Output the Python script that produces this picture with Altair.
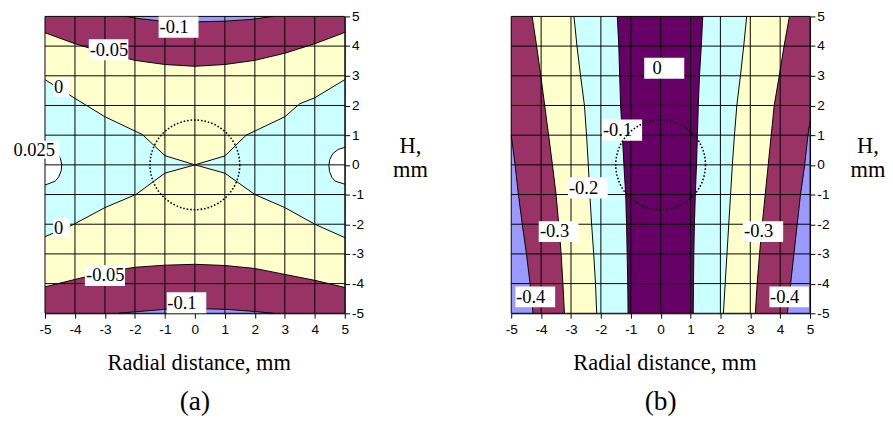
import altair as alt
import pandas as pd

TICKS = [-5, -4, -3, -2, -1, 0, 1, 2, 3, 4, 5]

LAVENDER = "#9999FF"
MAROON = "#993366"
YELLOW = "#FFFFCC"
CYAN = "#CCFFFF"
PURPLE = "#660066"

SERIF = "Liberation Serif, Times New Roman, serif"
SANS = "Liberation Sans, Arial, sans-serif"

# ---------------- Panel (a): contour lines (x, H in mm) ----------------
A_M010_TOP_X = [-2.3, -1.9, -1.2, 0.15, 1.0, 1.9, 2.6]
A_M010_TOP_Y = [5.0, 4.93, 4.85, 4.82, 4.84, 4.9, 5.0]
A_M005_TOP_X = [-5, -4, -3, -2, -1, 0, 1, 2, 3, 4, 5]
A_M005_TOP_Y = [4.45, 4.08, 3.78, 3.52, 3.38, 3.32, 3.38, 3.52, 3.76, 4.08, 4.46]
A_ZERO_UL_X = [-5, -4, -3, -1.75, -1.0, 0]
A_ZERO_UL_Y = [2.87, 2.24, 1.62, 1.02, 0.31, 0]
A_ZERO_UR_X = [0, 1.0, 1.71, 3.0, 3.5, 4.0, 5.0]
A_ZERO_UR_Y = [0, 0.30, 1.0, 1.62, 2.06, 2.26, 2.87]
A_ZERO_LL_X = [-5, -4.13, -3.0, -1.97, -1.0, 0]
A_ZERO_LL_Y = [-2.42, -2.05, -1.44, -1.0, -0.28, 0]
A_ZERO_LR_X = [0, 1.0, 2.0, 3.0, 4.0, 5.0]
A_ZERO_LR_Y = [0, -0.28, -1.0, -1.44, -2.0, -2.45]
A_M005_BOT_X = [-5, -4, -3, -2, -1, 0, 1, 2, 3, 4, 5]
A_M005_BOT_Y = [-4.11, -3.86, -3.62, -3.45, -3.38, -3.35, -3.39, -3.49, -3.69, -3.89, -4.13]
A_M010_BOT_X = [-2.56, -2.1, -1.05, 0.0, 1.1, 2.0, 2.63]
A_M010_BOT_Y = [-5, -4.96, -4.87, -4.84, -4.87, -4.94, -5]
A_P025_L_Y = [0.62, 0.55, 0.4, 0.2, 0, -0.2, -0.4, -0.55, -0.68]
A_P025_L_X = [-5, -4.75, -4.58, -4.48, -4.44, -4.46, -4.54, -4.66, -5]
A_P025_R_Y = [0.59, 0.52, 0.38, 0.18, -0.02, -0.22, -0.42, -0.55, -0.65]
A_P025_R_X = [5, 4.78, 4.6, 4.5, 4.47, 4.49, 4.57, 4.68, 5]

A_LABELS = ["-0.1", "-0.05", "0", "0.025", "0", "-0.05", "-0.1"]
A_LAB_X0 = [-1.21, -3.54, -4.73, -6.10, -4.73, -3.67, -0.94]
A_LAB_X1 = [0.12, -2.22, -4.19, -4.51, -4.17, -2.33, 0.38]
A_LAB_Y0 = [4.28, 3.52, 2.29, 0.21, -2.45, -4.08, -5.0]
A_LAB_Y1 = [5.0, 4.23, 2.94, 0.81, -1.80, -3.37, -4.29]
A_LAB_TX = [-1.18, -3.51, -4.70, -6.05, -4.70, -3.63, -0.92]

# ---------------- Panel (b): contour boundaries x(H) ----------------
B_Y = [5, 4, 3, 2, 1, 0, -1, -2, -3, -4, -5]
B1_Y = [5, 1.0, 0, -1, -2, -3, -4, -5]
B1_X = [-5.0, -5.0, -4.87, -4.76, -4.63, -4.49, -4.37, -4.27]
B2_X = [-4.30, -4.15, -4.01, -3.88, -3.75, -3.62, -3.50, -3.41, -3.33, -3.27, -3.22]
B3_X = [-2.90, -2.80, -2.68, -2.55, -2.48, -2.42, -2.37, -2.31, -2.24, -2.18, -2.14]
B4_X = [-1.45, -1.40, -1.37, -1.34, -1.28, -1.23, -1.17, -1.14, -1.12, -1.10, -1.09]
B5_X = [1.41, 1.36, 1.30, 1.26, 1.23, 1.20, 1.16, 1.13, 1.11, 1.10, 1.09]
B6_X = [2.88, 2.78, 2.67, 2.55, 2.47, 2.40, 2.34, 2.28, 2.22, 2.16, 2.10]
B7_X = [4.31, 4.13, 3.97, 3.80, 3.70, 3.60, 3.50, 3.40, 3.31, 3.23, 3.17]
B8_Y = [5, 1.48, 1, 0, -1, -2, -3, -4, -5]
B8_X = [5.0, 5.0, 4.93, 4.82, 4.68, 4.57, 4.46, 4.35, 4.24]

B_LABELS = ["0", "-0.1", "-0.2", "-0.3", "-0.3", "-0.4", "-0.4"]
B_LAB_X0 = [-0.55, -1.96, -3.10, -4.08, 2.75, -4.86, 3.64]
B_LAB_X1 = [0.79, -0.62, -1.77, -2.75, 4.10, -3.53, 4.96]
B_LAB_Y0 = [2.90, 0.81, -1.13, -2.60, -2.60, -4.80, -4.80]
B_LAB_Y1 = [3.61, 1.53, -0.42, -1.90, -1.90, -4.10, -4.10]
B_LAB_TX = [-0.27, -1.93, -3.07, -4.04, 2.79, -4.84, 3.66]

LABEL_EXPR = "'' + datum.value"


def sc():
    return alt.Scale(domain=[-5, 5], nice=False, zero=False)


def x_axis(title_x):
    return alt.Axis(values=TICKS, title="Radial distance, mm", grid=False,
                    domainColor="black", tickColor="black", tickSize=5,
                    labelFont=SANS, labelFontSize=14, labelColor="black",
                    labelPadding=5, labelExpr=LABEL_EXPR, labelFlush=False,
                    labelOverlap=False,
                    titleFont=SERIF, titleFontSize=23,
                    titleFontWeight="normal", titleColor="black",
                    titleAlign="center", titleX=title_x,
                    titleBaseline="alphabetic", titleY=58)


def y_axis(title_x):
    return alt.Axis(orient="right", values=TICKS, title=["H,", "mm"], grid=False,
                    domainColor="black", tickColor="black", tickSize=5,
                    labelFont=SANS, labelFontSize=14, labelColor="black",
                    labelPadding=2, labelExpr=LABEL_EXPR, labelFlush=False,
                    labelOverlap=False,
                    titleFont=SERIF, titleFontSize=23,
                    titleFontWeight="normal", titleColor="black", titleAngle=0,
                    titleAlign="center", titleBaseline="alphabetic",
                    titleX=title_x, titleY=140, titleLineHeight=24)


class Panel:
    def __init__(self, width, ytitle_x):
        self.width = width
        self.ytitle_x = ytitle_x

    def X(self, f):
        return alt.X(f, type="quantitative", scale=sc(), axis=x_axis(self.width / 2 + 4))

    def Y(self, f):
        return alt.Y(f, type="quantitative", scale=sc(), axis=y_axis(self.ytitle_x))

    def background(self, color):
        df = pd.DataFrame({"x0": [-5], "x1": [5], "y0": [-5], "y1": [5]})
        return alt.Chart(df).mark_rect(color=color).encode(
            x=self.X("x0"), x2="x1", y=self.Y("y0"), y2="y1")

    def band_v(self, xs, ys, edge, color):
        df = pd.DataFrame({"x": xs, "y": ys, "e": [edge] * len(xs)})
        return alt.Chart(df).mark_area(color=color, opacity=1).encode(
            x=self.X("x"), y=self.Y("y"), y2="e")

    def band_h(self, xs, ys, edge, color):
        df = pd.DataFrame({"x": xs, "y": ys, "e": [edge] * len(xs)})
        return alt.Chart(df).mark_area(color=color, opacity=1, orient="horizontal").encode(
            y=self.Y("y"), x=self.X("x"), x2="e")

    def curve(self, xs, ys, by_y=False):
        df = pd.DataFrame({"x": xs, "y": ys})
        enc = dict(x=self.X("x"), y=self.Y("y"))
        if by_y:
            enc["order"] = alt.Order("y", type="quantitative")
        return alt.Chart(df).mark_line(color="black", strokeWidth=1).encode(**enc)

    def grid(self):
        df = pd.DataFrame({"t": TICKS})
        v = alt.Chart(df).mark_rule(color="black", strokeWidth=1).encode(x=self.X("t"))
        h = alt.Chart(df).mark_rule(color="black", strokeWidth=1).encode(y=self.Y("t"))
        return [v, h]

    def labels(self, texts, x0, x1, y0, y1, tx):
        df = pd.DataFrame({"label": texts, "x0": x0, "x1": x1, "y0": y0, "y1": y1, "tx": tx})
        df["ty"] = (df["y0"] + df["y1"]) / 2
        box = alt.Chart(df).mark_rect(color="white").encode(
            x=self.X("x0"), x2="x1", y=self.Y("y0"), y2="y1")
        txt = alt.Chart(df).mark_text(align="left", baseline="middle", font=SERIF,
                                      fontSize=19, color="black").encode(
            x=self.X("tx"), y=self.Y("ty"), text="label:N")
        return [box, txt]

    def circle(self):
        df = pd.DataFrame({"x": [0], "y": [0]})
        return alt.Chart(df).mark_point(shape="circle", filled=False, size=8500,
                                        color="black", opacity=1, strokeWidth=1.6,
                                        strokeDash=[1.6, 2.0]).encode(
            x=self.X("x"), y=self.Y("y"))


def caption(text):
    return alt.TitleParams(text=text, orient="bottom", anchor="middle", frame="group",
                           font=SERIF, fontSize=28, fontWeight="normal",
                           color="black", offset=14)


# ---- panel (a)
pa = Panel(308, 67)
layers_a = [
    pa.background(YELLOW),
    pa.band_v(A_M005_TOP_X, A_M005_TOP_Y, 5, MAROON),
    pa.band_v(A_M010_TOP_X, A_M010_TOP_Y, 5, LAVENDER),
    pa.band_v(A_M005_BOT_X, A_M005_BOT_Y, -5, MAROON),
    pa.band_v(A_M010_BOT_X, A_M010_BOT_Y, -5, LAVENDER),
    pa.band_v(A_ZERO_UL_X, A_ZERO_UL_Y, 0, CYAN),
    pa.band_v(A_ZERO_UR_X, A_ZERO_UR_Y, 0, CYAN),
    pa.band_v(A_ZERO_LL_X, A_ZERO_LL_Y, 0, CYAN),
    pa.band_v(A_ZERO_LR_X, A_ZERO_LR_Y, 0, CYAN),
    pa.band_h(A_P025_L_X, A_P025_L_Y, -5, "white"),
    pa.band_h(A_P025_R_X, A_P025_R_Y, 5, "white"),
    pa.curve(A_M010_TOP_X, A_M010_TOP_Y),
    pa.curve(A_M005_TOP_X, A_M005_TOP_Y),
    pa.curve(A_ZERO_UL_X, A_ZERO_UL_Y),
    pa.curve(A_ZERO_UR_X, A_ZERO_UR_Y),
    pa.curve(A_ZERO_LL_X, A_ZERO_LL_Y),
    pa.curve(A_ZERO_LR_X, A_ZERO_LR_Y),
    pa.curve(A_M005_BOT_X, A_M005_BOT_Y),
    pa.curve(A_M010_BOT_X, A_M010_BOT_Y),
    pa.curve(A_P025_L_X, A_P025_L_Y, by_y=True),
    pa.curve(A_P025_R_X, A_P025_R_Y, by_y=True),
] + pa.grid() + pa.labels(A_LABELS, A_LAB_X0, A_LAB_X1, A_LAB_Y0, A_LAB_Y1, A_LAB_TX) + [pa.circle()]

panel_a = alt.layer(*layers_a).properties(width=308, height=305, title=caption("(a)"))

# ---- panel (b)
pb = Panel(307, 59)
layers_b = [
    pb.background(LAVENDER),
    pb.band_h(B1_X, B1_Y, 0, MAROON),
    pb.band_h(B8_X, B8_Y, 0, MAROON),
    pb.band_h(B2_X, B_Y, 0, YELLOW),
    pb.band_h(B7_X, B_Y, 0, YELLOW),
    pb.band_h(B3_X, B_Y, 0, CYAN),
    pb.band_h(B6_X, B_Y, 0, CYAN),
    pb.band_h(B4_X, B_Y, 0, PURPLE),
    pb.band_h(B5_X, B_Y, 0, PURPLE),
    pb.curve(B1_X[1:], B1_Y[1:], by_y=True),
    pb.curve(B2_X, B_Y, by_y=True),
    pb.curve(B3_X, B_Y, by_y=True),
    pb.curve(B4_X, B_Y, by_y=True),
    pb.curve(B5_X, B_Y, by_y=True),
    pb.curve(B6_X, B_Y, by_y=True),
    pb.curve(B7_X, B_Y, by_y=True),
    pb.curve(B8_X[1:], B8_Y[1:], by_y=True),
] + pb.grid() + pb.labels(B_LABELS, B_LAB_X0, B_LAB_X1, B_LAB_Y0, B_LAB_Y1, B_LAB_TX) + [pb.circle()]

panel_b = alt.layer(*layers_b).properties(width=307, height=305, title=caption("(b)"))

chart = alt.hconcat(panel_a, panel_b, spacing=79).properties(
    padding={"left": 4, "top": -4, "right": 0, "bottom": 0},
    background="white",
).configure_view(stroke=None)

chart.save("out.html", embed_options={"renderer": "svg", "actions": False})
